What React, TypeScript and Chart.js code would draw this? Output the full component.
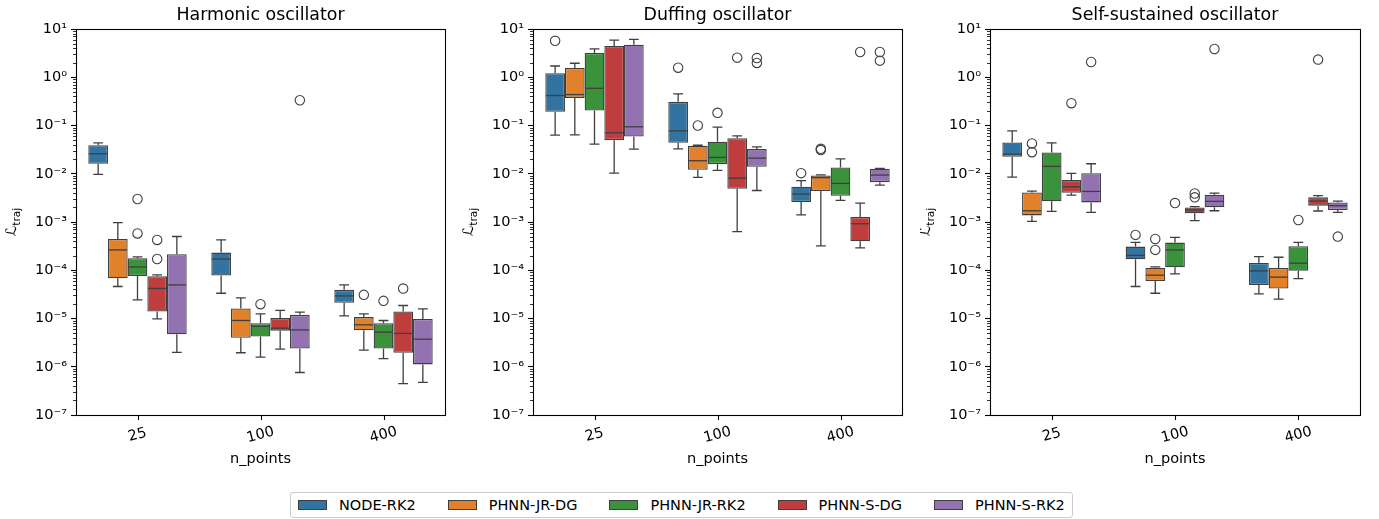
import React, { useEffect, useRef } from 'react';
import { Chart, registerables } from 'chart.js';

Chart.register(...registerables);

// ---------------- data ----------------
const categories = ['25', '100', '400'];
const models = ['NODE-RK2', 'PHNN-JR-DG', 'PHNN-JR-RK2', 'PHNN-S-DG', 'PHNN-S-RK2'];
const modelColors = ['#3274a1', '#e1812c', '#3a923a', '#c03d3e', '#9372b2'];
const panelTitles = ['Harmonic oscillator', 'Duffing oscillator', 'Self-sustained oscillator'];
const yTickExponents = [-7, -6, -5, -4, -3, -2, -1, 0, 1];
const xAxisLabel = 'n_points';

// box stats per n_points category: [lower whisker, q1, median, q3, upper whisker]
// Harmonic oscillator
const harmonicNodeRk2 = [[0.0097, 0.0161, 0.026, 0.039, 0.0438], [3.34e-5, 7.8e-5, 1.71e-4, 2.32e-4, 4.25e-4], [1.13e-5, 2.11e-5, 2.94e-5, 3.92e-5, 4.97e-5]];
const harmonicJrDg = [[4.6e-5, 6.8e-5, 2.64e-4, 4.45e-4, 9.7e-4], [1.95e-6, 3.98e-6, 9.1e-6, 1.61e-5, 2.68e-5], [2.21e-6, 5.7e-6, 7.4e-6, 1.07e-5, 1.25e-5]];
const harmonicJrRk2 = [[2.43e-5, 7.6e-5, 1.17e-4, 1.77e-4, 1.89e-4], [1.59e-6, 4.25e-6, 6.9e-6, 8.0e-6, 1.25e-5], [1.47e-6, 2.39e-6, 5.2e-6, 8.0e-6, 9.1e-6]];
const harmonicSDg = [[9.8e-6, 1.4e-5, 4.2e-5, 7.5e-5, 8.0e-5], [2.32e-6, 5.6e-6, 6.3e-6, 1.02e-5, 1.47e-5], [4.45e-7, 1.95e-6, 4.9e-6, 1.4e-5, 1.86e-5]];
const harmonicSRk2 = [[1.98e-6, 4.7e-6, 4.97e-5, 2.14e-4, 5.0e-4], [7.6e-7, 2.39e-6, 5.8e-6, 1.19e-5, 1.35e-5], [4.74e-7, 1.12e-6, 3.73e-6, 9.8e-6, 1.58e-5]];
const harmonicNodeRk2Out = [[], [], []];
const harmonicJrDgOut = [[], [], [3.09e-5]];
const harmonicJrRk2Out = [[3.0e-3, 5.8e-4], [1.98e-5], [2.32e-5]];
const harmonicSDgOut = [[4.25e-4, 1.71e-4], [], [4.18e-5]];
const harmonicSRk2Out = [[], [0.334], []];

// Duffing oscillator
const duffingNodeRk2 = [[0.063, 0.192, 0.418, 1.21, 1.71], [0.0329, 0.0438, 0.0776, 0.309, 0.452], [0.0014, 0.0026, 0.0038, 0.00538, 0.00717]];
const duffingJrDg = [[0.064, 0.373, 0.438, 1.56, 1.95], [0.0084, 0.0121, 0.0186, 0.038, 0.039], [3.2e-4, 0.0044, 0.0083, 0.0092, 0.0095]];
const duffingJrRk2 = [[0.041, 0.204, 0.59, 3.19, 3.86], [0.0117, 0.0158, 0.0218, 0.046, 0.0925], [0.0028, 0.0035, 0.0063, 0.0135, 0.0204]];
const duffingSDg = [[0.0103, 0.0497, 0.0705, 4.44, 5.9], [6.3e-4, 0.0049, 0.0081, 0.0547, 0.061], [2.9e-4, 4.0e-4, 9.2e-4, 0.00127, 0.00247]];
const duffingSRk2 = [[0.0324, 0.059, 0.094, 4.74, 6.1], [0.0045, 0.014, 0.0211, 0.0324, 0.0362], [0.0058, 0.0067, 0.0094, 0.0127, 0.0129]];
const duffingNodeRk2Out = [[5.7], [1.58], [0.0103]];
const duffingJrDgOut = [[], [0.1], [0.0329, 0.031]];
const duffingJrRk2Out = [[], [0.183], []];
const duffingSDgOut = [[], [2.55], [3.34]];
const duffingSRk2Out = [[], [2.5, 1.98], [3.34, 2.21]];

// Self-sustained oscillator
const selfNodeRk2 = [[0.0085, 0.0225, 0.0255, 0.0445, 0.0776], [4.6e-5, 1.69e-4, 2.04e-4, 3.09e-4, 3.8e-4], [3.24e-5, 4.97e-5, 9.7e-5, 1.42e-4, 1.92e-4]];
const selfJrDg = [[0.00103, 0.00137, 0.00171, 0.0041, 0.00437], [3.34e-5, 6.0e-5, 7.9e-5, 1.13e-4, 1.17e-4], [2.51e-5, 4.18e-5, 7.2e-5, 1.12e-4, 1.86e-4]];
const selfJrRk2 = [[0.00166, 0.00268, 0.0142, 0.0276, 0.0438], [8.4e-5, 1.15e-4, 2.64e-4, 3.74e-4, 4.82e-4], [6.7e-5, 9.8e-5, 1.4e-4, 3.14e-4, 3.8e-4]];
const selfSDg = [[0.00362, 0.00405, 0.00538, 0.0074, 0.0102], [0.00107, 0.00151, 0.00177, 0.002, 0.00208], [0.00169, 0.00218, 0.00272, 0.00324, 0.00351]];
const selfSRk2 = [[0.00159, 0.00255, 0.0043, 0.0103, 0.0161], [0.00171, 0.00201, 0.00268, 0.00368, 0.00398], [0.00159, 0.00177, 0.00218, 0.00255, 0.00272]];
const selfNodeRk2Out = [[], [5.4e-4], []];
const selfJrDgOut = [[0.0425, 0.028], [4.45e-4, 2.64e-4], []];
const selfJrRk2Out = [[], [0.00247], [0.0011]];
const selfSDgOut = [[0.29], [0.0039, 0.00324], [2.32]];
const selfSRk2Out = [[2.07], [3.86], [4.98e-4]];

const harmonicBoxes = [harmonicNodeRk2, harmonicJrDg, harmonicJrRk2, harmonicSDg, harmonicSRk2];
const harmonicOutliers = [harmonicNodeRk2Out, harmonicJrDgOut, harmonicJrRk2Out, harmonicSDgOut, harmonicSRk2Out];
const duffingBoxes = [duffingNodeRk2, duffingJrDg, duffingJrRk2, duffingSDg, duffingSRk2];
const duffingOutliers = [duffingNodeRk2Out, duffingJrDgOut, duffingJrRk2Out, duffingSDgOut, duffingSRk2Out];
const selfBoxes = [selfNodeRk2, selfJrDg, selfJrRk2, selfSDg, selfSRk2];
const selfOutliers = [selfNodeRk2Out, selfJrDgOut, selfJrRk2Out, selfSDgOut, selfSRk2Out];

// ---------------- layout / style ----------------
const FONT = "'DejaVu Sans', 'Liberation Sans', sans-serif";
const EDGE = '#3f3f3f';
const CANVAS_H = 480;
const PLOT_TOP = 29;
const PLOT_BOTTOM = 415;
const Y_AXIS_W = 60;

const panels = [
  { title: panelTitles[0], boxes: harmonicBoxes, outliers: harmonicOutliers, left: 0, width: 460, plotLeft: 76, plotRight: 445 },
  { title: panelTitles[1], boxes: duffingBoxes, outliers: duffingOutliers, left: 460, width: 460, plotLeft: 533, plotRight: 902 },
  { title: panelTitles[2], boxes: selfBoxes, outliers: selfOutliers, left: 920, width: 459, plotLeft: 990, plotRight: 1360 },
];

const SUP: Record<string, string> = { '0': '⁰', '1': '¹', '2': '²', '3': '³', '4': '⁴', '5': '⁵', '6': '⁶', '7': '⁷', '8': '⁸', '9': '⁹', '-': '⁻' };
const fmtPow = (v: number) => {
  const e = Math.round(Math.log10(v));
  return '10' + String(e).split('').map((c) => SUP[c] || c).join('');
};

const al = (v: number) => Math.round(v) + 0.5;

const boxPlugin = {
  id: 'boxWhiskers',
  afterDatasetsDraw(chart: any) {
    const ctx = chart.ctx;
    const ys = chart.scales.y;
    ctx.save();
    chart.data.datasets.forEach((ds: any, di: number) => {
      const meta = chart.getDatasetMeta(di);
      meta.data.forEach((el: any, j: number) => {
        const st = ds.stats[j];
        if (!st) return;
        const x = el.x;
        const w = el.width;
        const [lo, q1, med, q3, hi] = st.map((v: number) => ys.getPixelForValue(v));
        ctx.strokeStyle = EDGE;
        ctx.lineWidth = 1.3;
        ctx.beginPath();
        ctx.moveTo(x, q1); ctx.lineTo(x, lo);
        ctx.moveTo(x, q3); ctx.lineTo(x, hi);
        ctx.moveTo(x - w / 4, lo); ctx.lineTo(x + w / 4, lo);
        ctx.moveTo(x - w / 4, hi); ctx.lineTo(x + w / 4, hi);
        ctx.stroke();
        ctx.beginPath();
        ctx.moveTo(x - w / 2 + 0.6, med); ctx.lineTo(x + w / 2 - 0.6, med);
        ctx.stroke();
        ctx.lineWidth = 1.1;
        (ds.outliers[j] || []).forEach((v: number) => {
          ctx.beginPath();
          ctx.arc(x, ys.getPixelForValue(v), 4.7, 0, Math.PI * 2);
          ctx.stroke();
        });
      });
    });
    ctx.restore();
  },
};

const framePlugin = {
  id: 'frameAndLabels',
  afterDraw(chart: any) {
    const ctx = chart.ctx;
    const { left, right, top, bottom } = chart.chartArea;
    const ys = chart.scales.y;
    const xs = chart.scales.x;
    const title = chart.options.plugins.panelTitle;
    ctx.save();
    // minor y ticks
    ctx.strokeStyle = '#000';
    ctx.lineWidth = 0.8;
    ctx.beginPath();
    for (let e = -7; e < 1; e++) {
      for (let k = 2; k <= 9; k++) {
        const py = al(ys.getPixelForValue(k * Math.pow(10, e)));
        ctx.moveTo(left - 3, py); ctx.lineTo(left, py);
      }
    }
    ctx.stroke();
    // x ticks
    ctx.lineWidth = 1.1;
    ctx.beginPath();
    categories.forEach((_, i) => {
      const px = al(xs.getPixelForValue(i));
      ctx.moveTo(px, bottom); ctx.lineTo(px, bottom + 5);
    });
    ctx.stroke();
    // frame
    ctx.lineWidth = 1.1;
    ctx.strokeRect(al(left), al(top), Math.round(right - left), Math.round(bottom - top));
    // x tick labels rotated
    ctx.fillStyle = '#000';
    ctx.font = `14.5px ${FONT}`;
    ctx.textAlign = 'center';
    ctx.textBaseline = 'middle';
    categories.forEach((c, i) => {
      const px = xs.getPixelForValue(i);
      ctx.save();
      ctx.translate(px, bottom + 20);
      ctx.rotate((-15 * Math.PI) / 180);
      ctx.fillText(c, 0, 0);
      ctx.restore();
    });
    // x axis label
    ctx.textBaseline = 'alphabetic';
    ctx.fillText(xAxisLabel, (left + right) / 2, bottom + 48);
    // title
    ctx.font = `17.4px ${FONT}`;
    ctx.fillText(title, (left + right) / 2, 20);
    // y axis label: script L with subscript traj
    ctx.save();
    ctx.translate(left - 60, (top + bottom) / 2);
    ctx.rotate(-Math.PI / 2);
    ctx.font = `14.5px ${FONT}`;
    const wL = ctx.measureText('ℒ').width;
    ctx.font = `10.5px ${FONT}`;
    const wS = ctx.measureText('traj').width;
    const start = -(wL + wS) / 2;
    ctx.textAlign = 'left';
    ctx.font = `14.5px ${FONT}`;
    ctx.fillText('ℒ', start, 0);
    ctx.font = `10.5px ${FONT}`;
    ctx.fillText('traj', start + wL, 4);
    ctx.restore();
    ctx.restore();
  },
};

function Panel({ cfg }: { cfg: (typeof panels)[number] }) {
  const ref = useRef<HTMLCanvasElement | null>(null);
  useEffect(() => {
    if (!ref.current) return;
    const chart = new Chart(ref.current, {
      type: 'bar',
      data: {
        labels: categories,
        datasets: models.map((m, i) => ({
          label: m,
          data: cfg.boxes[i].map((s) => [s[1], s[3]]),
          stats: cfg.boxes[i],
          outliers: cfg.outliers[i],
          backgroundColor: modelColors[i],
          borderColor: EDGE,
          borderWidth: 1.3,
          borderSkipped: false,
          barPercentage: 1,
          categoryPercentage: 0.8,
        })) as any,
      },
      options: {
        animation: false,
        responsive: false,
        devicePixelRatio: 1,
        events: [],
        layout: {
          padding: {
            left: cfg.plotLeft - cfg.left - Y_AXIS_W,
            right: cfg.left + cfg.width - cfg.plotRight,
            top: PLOT_TOP,
            bottom: 0,
          },
        },
        plugins: {
          legend: { display: false },
          tooltip: { enabled: false },
          panelTitle: cfg.title,
        } as any,
        scales: {
          x: {
            type: 'category',
            offset: true,
            grid: { display: false },
            border: { display: false },
            ticks: { display: false },
            afterFit: (s: any) => { s.height = CANVAS_H - PLOT_BOTTOM; },
          },
          y: {
            type: 'logarithmic',
            min: 1e-7,
            max: 10,
            afterBuildTicks: (s: any) => {
              s.ticks = yTickExponents.map((e) => ({ value: Math.pow(10, e) }));
            },
            ticks: {
              autoSkip: false,
              callback: (v: any) => fmtPow(Number(v)),
              font: { family: FONT, size: 14.5 },
              color: '#000',
              padding: 4,
            },
            grid: { drawOnChartArea: false, tickLength: 5, tickColor: '#000', tickWidth: 1.1 },
            border: { display: false },
            afterFit: (s: any) => { s.width = Y_AXIS_W; },
          },
        } as any,
      },
      plugins: [boxPlugin, framePlugin],
    });
    return () => chart.destroy();
  }, [cfg]);
  return (
    <canvas
      ref={ref}
      width={cfg.width}
      height={CANVAS_H}
      style={{ position: 'absolute', left: cfg.left, top: 0, width: cfg.width, height: CANVAS_H, display: 'block' }}
    />
  );
}

export default function App() {
  return (
    <div style={{ position: 'absolute', left: 0, top: 0, width: 1379, height: 519, background: '#fff', overflow: 'hidden' }}>
      {panels.map((p) => (
        <Panel key={p.title} cfg={p} />
      ))}
      <div
        style={{
          position: 'absolute',
          left: 290,
          top: 492,
          height: 26,
          boxSizing: 'border-box',
          border: '1px solid #cccccc',
          borderRadius: 3,
          display: 'flex',
          alignItems: 'center',
          padding: '0 7px',
          fontFamily: FONT,
          fontSize: 14.5,
          color: '#000',
          whiteSpace: 'nowrap',
        }}
      >
        {models.map((m, i) => (
          <div key={m} style={{ display: 'flex', alignItems: 'center', marginLeft: i === 0 ? 0 : 32 }}>
            <span
              style={{
                display: 'inline-block',
                width: 29,
                height: 10,
                boxSizing: 'border-box',
                background: modelColors[i],
                border: `1px solid ${EDGE}`,
                marginRight: 12,
              }}
            />
            <span>{m}</span>
          </div>
        ))}
      </div>
    </div>
  );
}
